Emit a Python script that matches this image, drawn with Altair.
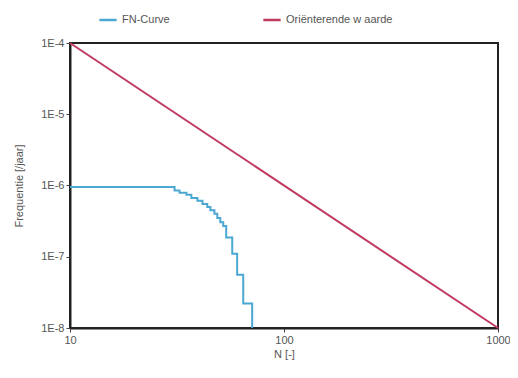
import altair as alt
import pandas as pd

# FN-curve (step data): N where each level starts, frequency level
fn_n = [10, 30.8, 32.5, 35.0, 36.9, 39.4, 41.6, 43.8, 45.3, 47.3, 48.8, 50.4, 52.0, 53.7, 57.3, 60.4, 64.5, 71.0, 71.0]
fn_f = [9.5e-7, 8.5e-7, 7.9e-7, 7.4e-7, 6.7e-7, 6.1e-7, 5.5e-7, 5.0e-7, 4.5e-7, 4.0e-7, 3.5e-7, 3.06e-7, 2.7e-7, 1.87e-7, 1.1e-7, 5.6e-8, 2.2e-8, 2.2e-8, 1e-8]

# Orienterende waarde line
ref_n = [10, 1000]
ref_f = [1e-4, 1e-8]

series_names = ["FN-Curve", "Oriënterende w aarde"]
series_colors = ["#4aa8d2", "#c03a60"]

df_fn = pd.DataFrame({"N": fn_n, "F": fn_f, "serie": series_names[0], "order": range(len(fn_n))})
df_ref = pd.DataFrame({"N": ref_n, "F": ref_f, "serie": series_names[1], "order": range(len(ref_n))})

x_ticks = [10, 100, 1000]
y_ticks = [1e-8, 1e-7, 1e-6, 1e-5, 1e-4]

xscale = alt.Scale(type="log", domain=[10, 1000], nice=False)
yscale = alt.Scale(type="log", domain=[1e-8, 1e-4], nice=False)

color = alt.Color("serie:N", scale=alt.Scale(domain=series_names, range=series_colors),
                  legend=alt.Legend(title=None, orient="none", legendX=28, legendY=-33,
                                    direction="horizontal", symbolType="stroke",
                                    symbolSize=300, symbolStrokeWidth=2.5, columnPadding=88,
                                    labelFont="Liberation Sans", labelFontSize=11,
                                    labelColor="#555555", labelLimit=300))

x = alt.X("N:Q", scale=xscale, title="N [-]",
          axis=alt.Axis(values=x_ticks, format="d", grid=False, domainColor="#222222",
                        domainWidth=2, tickColor="#444444", tickSize=4, labelColor="#555555",
                        labelFont="Liberation Sans", labelFontSize=11, titleFont="Liberation Sans",
                        titleFontSize=11, titleFontWeight="normal", titleColor="#555555",
                        titlePadding=3, labelFlush=False, labelOverlap=False))
y = alt.Y("F:Q", scale=yscale, title="Frequentie [/jaar]",
          axis=alt.Axis(values=y_ticks,
                        labelExpr="'1E-' + format(-log(datum.value)/LN10, '.0f')",
                        grid=False, domainColor="#222222", domainWidth=2, tickColor="#444444",
                        tickSize=4, labelColor="#555555", labelFont="Liberation Sans",
                        labelFontSize=11, titleFont="Liberation Sans", titleFontSize=11,
                        titleFontWeight="normal", titleColor="#555555", titlePadding=16,
                        labelFlush=False, labelOverlap=False))

fn_line = alt.Chart(df_fn).mark_line(interpolate="step-after", strokeWidth=2).encode(
    x=x, y=y, color=color, order="order:Q")
ref_line = alt.Chart(df_ref).mark_line(strokeWidth=2).encode(
    x=x, y=y, color=color, order="order:Q")

chart = (fn_line + ref_line).properties(
    width=428, height=285,
    autosize=alt.AutoSizeParams(type="none"),
    padding={"left": 62, "top": 35, "right": 12, "bottom": 40},
    background="white",
).configure_view(stroke="#222222", strokeWidth=2)

chart.save("out.html", embed_options={"renderer": "svg", "actions": False})
